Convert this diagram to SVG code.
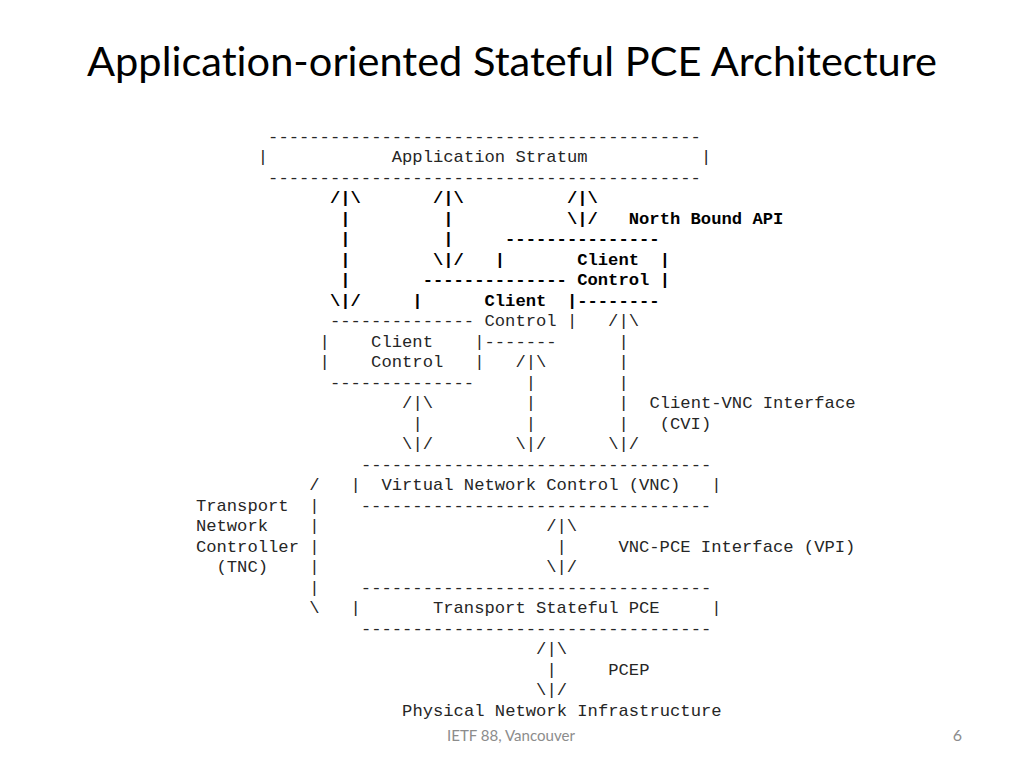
<svg xmlns="http://www.w3.org/2000/svg" width="1024" height="768" viewBox="0 0 1024 768">
<style>
.t{font-family:"Lato","Open Sans","Liberation Sans",sans-serif;fill:#000;font-variant-ligatures:none;font-feature-settings:"liga" 0}
.f{font-family:"Lato","Open Sans","Liberation Sans",sans-serif;fill:#8c8c8c;font-size:16px}
.m{font-family:"Liberation Mono","Courier New",monospace;font-size:17.18px;fill:#262626;white-space:pre}
.b{font-weight:bold;fill:#000}
</style>
<rect width="1024" height="768" fill="#fff"/>
<text class="t" x="87" y="76" font-size="40" textLength="850" lengthAdjust="spacingAndGlyphs">Application-oriented Stateful PCE Architecture</text>
<g id="ascii" xml:space="preserve">
<text class="m" x="268.1" y="141.5">------------------------------------------</text>
<text class="m" x="257.8" y="162">|            Application Stratum           |</text>
<text class="m" x="268.1" y="182.5">------------------------------------------</text>
<text class="m b" x="329.9" y="203">/|\       /|\          /|\</text>
<text class="m b" x="340.2" y="223.5">|         |           \|/   North Bound API</text>
<text class="m b" x="340.2" y="244">|         |     ---------------</text>
<text class="m b" x="340.2" y="264.5">|        \|/   |       Client  |</text>
<text class="m b" x="340.2" y="285">|       -------------- Control |</text>
<text class="m b" x="329.9" y="305.5">\|/     |      Client  |--------</text>
<text class="m" x="329.9" y="326">-------------- Control |   /|\</text>
<text class="m" x="319.6" y="346.5">|    Client    |-------      |</text>
<text class="m" x="319.6" y="367">|    Control   |   /|\       |</text>
<text class="m" x="329.9" y="387.5">--------------     |        |</text>
<text class="m" x="402.1" y="408">/|\         |        |  Client-VNC Interface</text>
<text class="m" x="412.4" y="428.5">|          |        |   (CVI)</text>
<text class="m" x="402.1" y="449">\|/        \|/      \|/</text>
<text class="m" x="360.9" y="469.5">----------------------------------</text>
<text class="m" x="309.3" y="490">/   |  Virtual Network Control (VNC)   |</text>
<text class="m" x="195.9" y="510.5">Transport  |    ----------------------------------</text>
<text class="m" x="195.9" y="531">Network    |                      /|\</text>
<text class="m" x="195.9" y="551.5">Controller |                       |     VNC-PCE Interface (VPI)</text>
<text class="m" x="216.5" y="572">(TNC)    |                      \|/</text>
<text class="m" x="309.3" y="592.5">|    ----------------------------------</text>
<text class="m" x="309.3" y="613">\   |       Transport Stateful PCE     |</text>
<text class="m" x="360.9" y="633.5">----------------------------------</text>
<text class="m" x="536.1" y="654">/|\</text>
<text class="m" x="546.4" y="674.5">|     PCEP</text>
<text class="m" x="536.1" y="695">\|/</text>
<text class="m" x="402.1" y="715.5">Physical Network Infrastructure</text>
</g>
<text class="f" x="447" y="741" textLength="128" lengthAdjust="spacingAndGlyphs">IETF 88, Vancouver</text>
<text class="f" x="962" y="741" text-anchor="end">6</text>
</svg>
